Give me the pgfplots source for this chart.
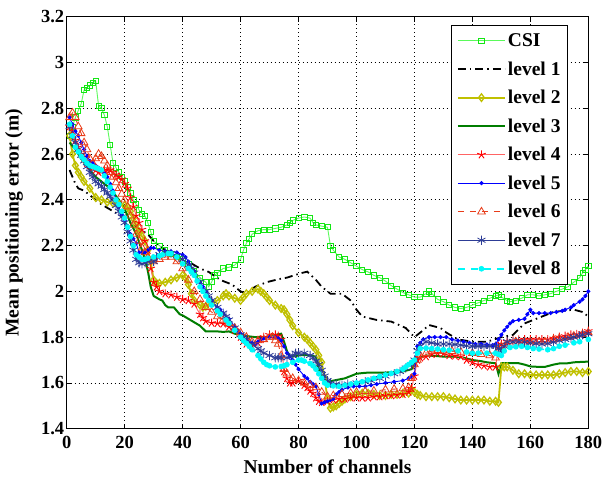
\documentclass[border=0pt]{standalone}
\usepackage{fontspec}
\setmainfont{Liberation Serif}
\usepackage{pgfplots}
\pgfplotsset{compat=1.18}
\definecolor{csiL}{RGB}{90,250,90}
\definecolor{csiM}{RGB}{20,230,20}
\definecolor{lvtwo}{RGB}{192,192,0}
\definecolor{lvthree}{RGB}{0,125,0}
\definecolor{lvfourL}{RGB}{255,100,100}
\definecolor{lvfourM}{RGB}{255,0,0}
\definecolor{lvfive}{RGB}{0,0,255}
\definecolor{lvsix}{RGB}{232,60,25}
\definecolor{lvseven}{RGB}{45,60,150}
\definecolor{lveight}{RGB}{0,250,250}
\begin{document}
\begin{tikzpicture}
\useasboundingbox (-66.7bp,-48.3bp) rectangle (539.3bp,428.7bp);
\begin{axis}[
  at={(0,0)}, anchor=south west,
  scale only axis, width=521.6bp, height=412bp,
  xmin=0, xmax=180, ymin=1.4, ymax=3.2,
  xtick={0,20,40,60,80,100,120,140,160,180},
  ytick={1.4,1.6,1.8,2.0,2.2,2.4,2.6,2.8,3.0,3.2},
  axis line style={black, line width=1bp},
  tick align=inside, major tick length=5bp,
  tick style={black, line width=0.8bp},
  grid=major,
  major grid style={black, line width=0.7bp, dash pattern=on 0.7bp off 3.3bp},
  /pgf/number format/assume math mode=true,
  tick label style={font=\fontsize{18.5bp}{20bp}\selectfont\bfseries},
  xticklabel style={yshift=-4bp},
  yticklabel style={xshift=1bp},
  label style={font=\fontsize{19.5bp}{22bp}\selectfont\bfseries},
  xlabel={Number of channels},
  ylabel={Mean positioning error (m)},
  xlabel style={at={(axis description cs:0.5,-0.1083)}, anchor=base, inner sep=0pt},
  ylabel style={at={(axis description cs:-0.101,0.5)}, anchor=center, inner sep=0pt},
  legend cell align=left,
  legend image code/.code={\draw[mark repeat=2,mark phase=2,#1] plot coordinates {(0bp,0bp)(23.5bp,0bp)(47bp,0bp)};},
  legend style={at={(axis description cs:0.962,0.98)}, anchor=north east,
    font=\fontsize{19.5bp}{22bp}\selectfont\bfseries, draw=black, line width=1bp,
    fill=white, inner xsep=5.5bp, inner ysep=1.5bp,
    nodes={inner ysep=6.75bp}},
]
% CSI
\addplot[color=csiL, line width=0.9bp, mark=square, mark size=2.6bp, mark options={solid, draw=csiM, line width=0.8bp}] coordinates {
(1,2.68)(2,2.72)(3,2.76)(4,2.79)(5,2.82)(6,2.88)(7,2.89)(8,2.90)(9,2.91)(10,2.92)(11,2.81)(12,2.80)(13,2.77)(14,2.72)(15,2.64)(16,2.56)(17,2.54)(18,2.52)(19,2.50)(20,2.48)(21,2.455)(22,2.43)(23,2.40)(24,2.38)(25,2.355)(26,2.34)(27,2.33)(28,2.30)(29,2.26)(30,2.22)(32,2.20)(34,2.18)(36,2.165)(38,2.15)(40,2.14)(42,2.12)(44,2.09)(46,2.06)(48,2.04)(49,2.02)(50,2.04)(51,2.07)(52,2.08)(54,2.10)(56,2.105)(58,2.115)(60,2.14)(61,2.18)(62,2.21)(63,2.23)(64,2.25)(66,2.265)(68,2.27)(70,2.27)(72,2.275)(74,2.28)(76,2.29)(77,2.30)(78,2.31)(80,2.32)(82,2.325)(84,2.32)(85,2.30)(86,2.29)(88,2.285)(90,2.28)(91,2.20)(92,2.18)(94,2.15)(96,2.14)(98,2.125)(100,2.11)(102,2.095)(104,2.085)(106,2.07)(108,2.06)(110,2.045)(112,2.025)(114,2.01)(116,1.995)(118,1.985)(120,1.975)(122,1.975)(124,1.99)(125,2.0)(126,1.99)(128,1.965)(130,1.955)(132,1.94)(134,1.93)(136,1.925)(138,1.93)(140,1.94)(142,1.95)(144,1.96)(146,1.97)(148,1.98)(149,1.985)(150,1.975)(152,1.96)(153,1.955)(155,1.96)(157,1.97)(159,1.985)(161,1.985)(163,1.98)(165,1.985)(167,1.99)(169,2.0)(171,2.01)(173,2.02)(175,2.04)(177,2.06)(178,2.08)(179,2.095)(180,2.11)};
\addlegendentry{CSI}
% level 1
\addplot[color=black, line width=1.8bp, dash pattern=on 8bp off 4bp on 1.5bp off 4bp] coordinates {
(1,2.53)(2,2.50)(3,2.47)(4,2.45)(6,2.44)(8,2.42)(12,2.38)(16,2.35)(20,2.32)(24,2.28)(28,2.25)(30,2.22)(34,2.18)(38,2.15)(42,2.13)(46,2.10)(49,2.085)(53,2.05)(57,2.03)(60,2.0)(62,1.99)(65,2.02)(69,2.04)(73,2.053)(76,2.06)(79,2.072)(81,2.08)(83,2.086)(86,2.05)(88,2.02)(91,1.99)(95,1.99)(98,1.96)(100,1.92)(102,1.89)(107,1.875)(112,1.868)(117,1.84)(120,1.80)(123,1.83)(125,1.853)(129,1.84)(131,1.82)(135,1.79)(140,1.78)(145,1.78)(150,1.80)(154,1.81)(158,1.86)(162,1.88)(168,1.91)(175,1.92)(178,1.91)(180,1.89)};
\addlegendentry{level 1}
% level 2
\addplot[color=lvtwo, line width=1.8bp, mark=diamond, mark size=3.8bp, mark options={solid, line width=1.3bp}] coordinates {
(1,2.68)(2,2.60)(3,2.55)(4,2.52)(5,2.50)(6,2.48)(8,2.45)(10,2.41)(12,2.40)(14,2.39)(16,2.385)(18,2.38)(20,2.375)(21,2.37)(22,2.35)(23,2.32)(24,2.29)(25,2.26)(26,2.24)(27,2.22)(28,2.18)(29,2.13)(30,2.05)(31,2.035)(32,2.035)(34,2.04)(36,2.05)(38,2.06)(40,2.07)(41,2.06)(42,2.03)(43,1.99)(44,1.96)(46,1.94)(47,1.93)(48,1.935)(50,1.95)(52,1.96)(54,1.98)(55,1.99)(56,1.98)(58,1.97)(60,1.96)(61,1.975)(62,1.99)(64,2.0)(66,2.01)(67,2.0)(68,1.99)(69,1.975)(70,1.96)(72,1.94)(74,1.925)(75,1.92)(76,1.90)(77,1.875)(78,1.85)(80,1.82)(82,1.80)(83,1.79)(84,1.775)(85,1.76)(86,1.745)(87,1.72)(88,1.69)(89,1.62)(90,1.53)(91,1.49)(92,1.495)(93,1.50)(94,1.51)(95,1.52)(96,1.53)(98,1.54)(100,1.55)(102,1.555)(104,1.555)(106,1.55)(108,1.545)(110,1.545)(112,1.55)(114,1.55)(116,1.555)(118,1.555)(119,1.57)(120,1.56)(121,1.55)(122,1.545)(124,1.54)(126,1.54)(128,1.54)(130,1.54)(132,1.535)(134,1.53)(136,1.525)(138,1.525)(140,1.525)(142,1.525)(144,1.525)(146,1.52)(148,1.52)(149,1.515)(150,1.67)(151,1.67)(152,1.67)(154,1.655)(156,1.64)(158,1.64)(160,1.635)(162,1.635)(164,1.635)(166,1.635)(168,1.635)(170,1.64)(172,1.645)(174,1.65)(176,1.65)(178,1.645)(180,1.65)};
\addlegendentry{level 2}
% level 3
\addplot[color=lvthree, line width=2bp] coordinates {
(1,2.65)(3,2.62)(5,2.58)(8,2.53)(10,2.50)(13,2.47)(15,2.45)(18,2.40)(20,2.36)(22,2.30)(24,2.25)(26,2.18)(27,2.14)(28,2.09)(29,2.02)(30,1.98)(32,1.965)(33,1.96)(34,1.94)(35,1.93)(37,1.93)(39,1.90)(40,1.895)(42,1.88)(44,1.865)(46,1.85)(48,1.825)(50,1.825)(52,1.825)(54,1.823)(56,1.825)(58,1.815)(60,1.81)(62,1.805)(65,1.80)(67,1.80)(69,1.80)(71,1.81)(72,1.81)(74,1.815)(75,1.78)(76,1.74)(77,1.715)(78,1.715)(80,1.72)(82,1.722)(84,1.72)(86,1.715)(87,1.66)(88,1.63)(89,1.605)(90,1.605)(92,1.61)(94,1.615)(96,1.62)(98,1.63)(100,1.64)(102,1.643)(104,1.645)(107,1.645)(110,1.645)(113,1.648)(116,1.65)(119,1.66)(120,1.68)(121,1.70)(122,1.71)(124,1.72)(127,1.718)(130,1.715)(134,1.715)(137,1.71)(140,1.70)(143,1.695)(145,1.69)(148,1.686)(149,1.64)(150,1.686)(153,1.686)(156,1.686)(158,1.68)(160,1.672)(163,1.67)(165,1.67)(168,1.68)(170,1.685)(173,1.686)(175,1.69)(178,1.692)(180,1.693)};
\addlegendentry{level 3}
% level 4
\addplot[color=lvfourL, line width=0.9bp, mark=star, mark size=4.4bp, mark options={solid, draw=lvfourM, line width=0.9bp}] coordinates {
(1,2.72)(2,2.70)(3,2.66)(4,2.63)(5,2.60)(6,2.58)(7,2.56)(8,2.55)(9,2.54)(10,2.53)(11,2.52)(12,2.525)(13,2.53)(14,2.53)(15,2.53)(16,2.52)(17,2.51)(18,2.50)(19,2.49)(20,2.47)(21,2.45)(22,2.41)(23,2.37)(24,2.33)(25,2.30)(26,2.27)(27,2.22)(28,2.18)(29,2.10)(30,2.04)(31,2.02)(32,2.0)(34,1.99)(36,1.985)(38,1.975)(40,1.965)(42,1.96)(44,1.945)(46,1.90)(47,1.885)(48,1.87)(50,1.862)(52,1.86)(54,1.858)(56,1.845)(58,1.83)(60,1.80)(61,1.785)(62,1.77)(64,1.76)(66,1.775)(67,1.79)(68,1.80)(70,1.81)(72,1.81)(73,1.805)(74,1.79)(75,1.65)(76,1.62)(77,1.60)(78,1.60)(80,1.61)(82,1.59)(83,1.58)(84,1.565)(85,1.555)(86,1.535)(87,1.52)(88,1.515)(90,1.52)(92,1.526)(94,1.53)(96,1.53)(98,1.535)(100,1.535)(102,1.535)(104,1.535)(106,1.54)(108,1.54)(110,1.545)(112,1.545)(114,1.548)(116,1.55)(118,1.56)(119,1.576)(120,1.63)(121,1.70)(122,1.71)(124,1.715)(126,1.725)(128,1.73)(130,1.728)(132,1.72)(134,1.718)(136,1.715)(138,1.70)(140,1.69)(142,1.68)(144,1.675)(146,1.67)(148,1.67)(149,1.76)(150,1.77)(152,1.78)(154,1.785)(156,1.788)(158,1.79)(160,1.79)(162,1.79)(164,1.79)(166,1.79)(168,1.795)(170,1.80)(172,1.805)(174,1.81)(176,1.812)(178,1.818)(180,1.827)};
\addlegendentry{level 4}
% level 5
\addplot[color=lvfive, line width=0.9bp, mark=*, mark size=1.6bp, mark options={solid}] coordinates {
(1,2.76)(2,2.73)(3,2.70)(4,2.68)(5,2.65)(6,2.62)(7,2.59)(8,2.57)(9,2.56)(10,2.55)(11,2.54)(12,2.53)(13,2.515)(14,2.50)(15,2.47)(16,2.44)(17,2.40)(18,2.37)(19,2.334)(20,2.31)(21,2.28)(22,2.25)(23,2.23)(24,2.21)(25,2.17)(26,2.17)(27,2.17)(28,2.18)(29,2.19)(30,2.19)(32,2.18)(34,2.175)(36,2.175)(38,2.17)(40,2.16)(41,2.15)(42,2.13)(44,2.09)(46,2.04)(47,2.02)(48,2.0)(50,1.96)(52,1.93)(53,1.92)(54,1.905)(56,1.88)(58,1.845)(59,1.83)(60,1.815)(62,1.79)(64,1.775)(65,1.77)(66,1.78)(67,1.79)(68,1.795)(70,1.80)(72,1.80)(73,1.795)(74,1.785)(75,1.76)(76,1.73)(77,1.715)(78,1.70)(79,1.68)(80,1.66)(82,1.63)(83,1.62)(84,1.605)(85,1.595)(86,1.585)(87,1.55)(88,1.51)(89,1.515)(90,1.52)(91,1.525)(92,1.53)(93,1.55)(94,1.56)(95,1.57)(97,1.58)(99,1.585)(101,1.585)(103,1.585)(105,1.59)(107,1.595)(110,1.60)(113,1.605)(116,1.61)(118,1.62)(119,1.63)(120,1.64)(121,1.76)(122,1.775)(123,1.79)(125,1.80)(127,1.80)(129,1.80)(131,1.80)(133,1.79)(135,1.785)(137,1.78)(139,1.775)(141,1.77)(143,1.77)(145,1.768)(147,1.765)(148,1.77)(149,1.79)(150,1.81)(151,1.83)(152,1.845)(153,1.86)(154,1.87)(156,1.875)(158,1.88)(159,1.90)(160,1.92)(161,1.905)(163,1.905)(165,1.905)(167,1.905)(169,1.91)(171,1.915)(172,1.92)(174,1.93)(175,1.94)(177,1.955)(178,1.965)(179,1.98)(180,2.0)};
\addlegendentry{level 5}
% level 6
\addplot[color=lvsix, line width=0.9bp, dash pattern=on 6bp off 6bp, mark=triangle, mark size=4.4bp, mark options={solid, line width=0.8bp}] coordinates {
(1,2.76)(2,2.78)(3,2.76)(4,2.72)(5,2.69)(6,2.65)(7,2.62)(8,2.58)(9,2.56)(10,2.58)(11,2.60)(12,2.59)(13,2.57)(14,2.55)(15,2.52)(16,2.50)(17,2.475)(18,2.45)(19,2.425)(20,2.40)(21,2.37)(22,2.33)(23,2.29)(24,2.25)(25,2.22)(26,2.19)(27,2.17)(28,2.15)(30,2.13)(32,2.14)(34,2.15)(36,2.15)(38,2.13)(40,2.10)(42,2.05)(44,2.0)(46,1.965)(48,1.93)(50,1.91)(52,1.89)(54,1.875)(56,1.86)(58,1.84)(60,1.82)(62,1.80)(64,1.78)(66,1.785)(68,1.79)(70,1.80)(71,1.80)(72,1.785)(73,1.77)(74,1.72)(75,1.66)(76,1.64)(78,1.62)(80,1.61)(82,1.60)(84,1.59)(86,1.58)(88,1.56)(90,1.54)(92,1.545)(95,1.55)(98,1.555)(100,1.56)(103,1.563)(106,1.565)(110,1.57)(113,1.573)(116,1.575)(118,1.58)(119,1.62)(120,1.68)(121,1.70)(122,1.72)(124,1.73)(126,1.74)(128,1.74)(130,1.74)(133,1.738)(136,1.735)(140,1.73)(143,1.725)(146,1.72)(148,1.71)(149,1.74)(150,1.76)(152,1.77)(155,1.78)(158,1.78)(160,1.78)(163,1.78)(165,1.78)(168,1.79)(170,1.795)(173,1.80)(175,1.805)(178,1.812)(180,1.82)};
\addlegendentry{level 6}
% level 7
\addplot[color=lvseven, line width=0.9bp, mark=asterisk, mark size=4.6bp, mark options={solid, line width=0.8bp}] coordinates {
(1,2.72)(2,2.68)(3,2.65)(4,2.62)(5,2.595)(6,2.57)(7,2.545)(8,2.52)(9,2.50)(10,2.48)(11,2.47)(12,2.46)(13,2.445)(14,2.43)(15,2.415)(16,2.40)(17,2.375)(18,2.35)(19,2.325)(20,2.30)(21,2.26)(22,2.22)(23,2.18)(24,2.14)(25,2.125)(26,2.12)(27,2.125)(28,2.13)(30,2.13)(31,2.15)(32,2.16)(34,2.17)(36,2.165)(38,2.155)(40,2.14)(42,2.115)(43,2.10)(44,2.08)(46,2.04)(48,2.0)(49,1.98)(50,1.96)(52,1.93)(54,1.905)(55,1.89)(56,1.875)(58,1.84)(60,1.81)(61,1.80)(62,1.79)(64,1.77)(66,1.75)(67,1.74)(68,1.73)(70,1.72)(72,1.71)(73,1.71)(74,1.71)(76,1.71)(78,1.72)(79,1.73)(80,1.73)(82,1.73)(84,1.72)(85,1.71)(86,1.695)(87,1.68)(88,1.655)(89,1.63)(90,1.61)(91,1.60)(93,1.595)(95,1.59)(97,1.595)(100,1.60)(103,1.605)(105,1.61)(108,1.62)(110,1.63)(113,1.64)(115,1.65)(117,1.665)(119,1.68)(120,1.70)(121,1.74)(122,1.76)(124,1.78)(126,1.775)(128,1.77)(130,1.77)(132,1.77)(134,1.768)(136,1.765)(138,1.762)(140,1.76)(142,1.76)(144,1.76)(146,1.76)(148,1.76)(149,1.75)(150,1.74)(151,1.76)(152,1.78)(154,1.78)(156,1.78)(158,1.778)(160,1.775)(162,1.772)(164,1.77)(166,1.772)(168,1.778)(170,1.785)(172,1.79)(174,1.795)(175,1.80)(177,1.805)(178,1.81)(180,1.815)};
\addlegendentry{level 7}
% level 8
\addplot[color=lveight, line width=1.6bp, dash pattern=on 7bp off 6bp, mark=*, mark size=2bp, mark options={solid}] coordinates {
(1,2.73)(2,2.68)(3,2.63)(4,2.61)(5,2.59)(6,2.575)(7,2.56)(8,2.55)(9,2.545)(10,2.54)(11,2.535)(12,2.53)(13,2.505)(14,2.48)(15,2.455)(16,2.43)(17,2.40)(18,2.38)(19,2.35)(20,2.32)(21,2.28)(22,2.24)(23,2.20)(24,2.16)(25,2.15)(26,2.14)(27,2.14)(28,2.145)(30,2.15)(32,2.155)(33,2.16)(35,2.165)(36,2.165)(38,2.15)(40,2.12)(42,2.10)(43,2.085)(44,2.07)(45,2.045)(46,2.02)(47,2.0)(48,1.98)(49,1.96)(50,1.94)(52,1.915)(53,1.90)(55,1.875)(56,1.86)(58,1.83)(60,1.80)(61,1.785)(62,1.773)(63,1.76)(64,1.745)(66,1.72)(67,1.705)(68,1.69)(69,1.68)(70,1.675)(72,1.67)(74,1.672)(75,1.675)(76,1.68)(78,1.69)(80,1.70)(81,1.70)(82,1.695)(84,1.685)(85,1.675)(86,1.66)(87,1.64)(88,1.62)(89,1.60)(90,1.59)(92,1.587)(94,1.585)(96,1.59)(98,1.595)(100,1.60)(102,1.605)(104,1.613)(106,1.62)(108,1.628)(110,1.635)(112,1.642)(114,1.65)(116,1.66)(117,1.67)(118,1.68)(119,1.69)(120,1.70)(121,1.73)(122,1.75)(124,1.752)(126,1.75)(128,1.748)(130,1.745)(132,1.743)(135,1.74)(138,1.735)(140,1.73)(142,1.73)(145,1.73)(148,1.73)(149,1.725)(150,1.72)(151,1.74)(153,1.755)(155,1.758)(157,1.76)(159,1.755)(161,1.75)(163,1.748)(166,1.745)(168,1.75)(170,1.76)(172,1.765)(175,1.775)(177,1.78)(180,1.79)};
\addlegendentry{level 8}
\end{axis}
\end{tikzpicture}
\end{document}
